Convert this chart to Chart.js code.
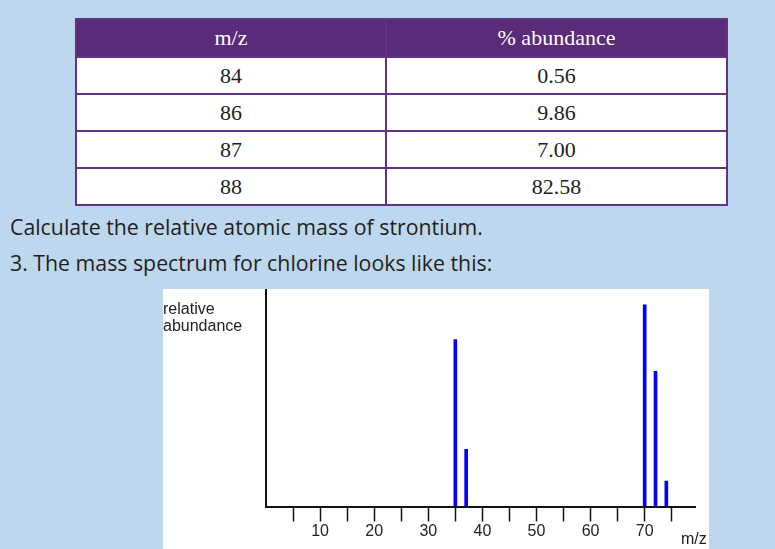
<!DOCTYPE html>
<html>
<head>
<meta charset="utf-8">
<script src="https://cdn.jsdelivr.net/npm/chart.js@4.4.1/dist/chart.umd.min.js"></script>
<style>
  html, body { margin: 0; padding: 0; }
  body { width: 775px; height: 549px; background: #BDD7EE; position: relative; overflow: hidden; }
  table.iso { position: absolute; left: 75px; top: 18px; width: 651px; border-collapse: collapse; table-layout: fixed;
    font-family: "Liberation Serif", "DejaVu Serif", serif; font-size: 22px; color: #231F20; }
  table.iso th, table.iso td { border: 2px solid #5F3283; text-align: center; padding: 0; line-height: 24px; }
  table.iso th { background: #5B2A78; color: #fff; font-weight: normal; height: 36px; }
  table.iso th + th { border-left: 2px solid #F2EEF6; }
  table.iso td { background: #fff; height: 35px; }
  .q { position: absolute; left: 10px; font-family: "Open Sans", sans-serif; font-size: 21.3px; line-height: 24px; color: #231F20; white-space: nowrap; }
  #box { position: absolute; left: 163px; top: 289px; width: 546px; height: 260px; background: #fff; }
</style>
</head>
<body>
<table class="iso" id="tbl">
  <colgroup><col style="width:310px"><col style="width:341px"></colgroup>
  <thead><tr><th id="h1"></th><th id="h2"></th></tr></thead>
  <tbody id="tb"></tbody>
</table>
<div class="q" style="top:215px">Calculate the relative atomic mass of strontium.</div>
<div class="q" style="top:251px">3. The mass spectrum for chlorine looks like this:</div>
<div id="box"><canvas id="c" width="546" height="260"></canvas></div>
<script>
// Table data (strontium)
const tableHeaders = ["m/z", "% abundance"];
const srMass = ["84", "86", "87", "88"];
const srAbundance = ["0.56", "9.86", "7.00", "82.58"];

// Chlorine mass spectrum
const peakMz = [35, 37, 70, 72, 74];
const peakAbundance = [82.7, 28.3, 100, 67.0, 12.6];
const xTickValues = [5, 10, 15, 20, 25, 30, 35, 40, 45, 50, 55, 60, 65, 70, 75];
const xTickLabels = ["", "10", "", "20", "", "30", "", "40", "", "50", "", "60", "", "70", ""];
const xAxisTitle = "m/z";
const yAxisTitle = ["relative", "abundance"];

document.getElementById('h1').textContent = tableHeaders[0];
document.getElementById('h2').textContent = tableHeaders[1];
const tb = document.getElementById('tb');
srMass.forEach((m, i) => {
  const tr = document.createElement('tr');
  const a = document.createElement('td'); a.textContent = m;
  const b = document.createElement('td'); b.textContent = srAbundance[i];
  tr.appendChild(a); tr.appendChild(b); tb.appendChild(tr);
});

const labelPlugin = {
  id: 'axisTexts',
  afterDraw(chart) {
    const ctx = chart.ctx;
    const a = chart.chartArea;
    ctx.save();
    ctx.fillStyle = '#222';
    ctx.font = '16px "Liberation Sans", Arial, sans-serif';
    ctx.textAlign = 'left';
    ctx.textBaseline = 'alphabetic';
    ctx.fillText(yAxisTitle[0], 0, a.top + 25);
    ctx.fillText(yAxisTitle[1], 0, a.top + 42);
    ctx.fillText(xAxisTitle, a.right - 14, a.bottom + 37);
    ctx.restore();
  }
};

new Chart(document.getElementById('c'), {
  type: 'bar',
  data: {
    datasets: [{
      data: peakMz.map((x, i) => ({ x: x, y: peakAbundance[i] })),
      backgroundColor: '#0000FF',
      borderWidth: 0,
      barThickness: 3
    }]
  },
  options: {
    responsive: false,
    animation: false,
    devicePixelRatio: 1,
    layout: { padding: { left: 103, right: 14, top: 0, bottom: 0 } },
    plugins: { legend: { display: false }, tooltip: { enabled: false }, title: { display: false } },
    scales: {
      x: {
        type: 'linear',
        offset: false,
        min: 0,
        max: 79.3,
        afterBuildTicks: (s) => { s.ticks = xTickValues.map(v => ({ value: v })); },
        afterFit: (s) => { s.height = 42.5; },
        ticks: {
          autoSkip: false,
          maxRotation: 0,
          padding: 0,
          color: '#222',
          font: { family: '"Liberation Sans", Arial, sans-serif', size: 16 },
          callback: (v) => { const i = xTickValues.indexOf(v); return i >= 0 ? xTickLabels[i] : ''; }
        },
        grid: { display: true, offset: false, drawOnChartArea: false, drawTicks: true, tickLength: 15, tickColor: '#111', tickWidth: 1.5 },
        border: { display: true, color: '#111', width: 2 }
      },
      y: {
        min: 0,
        max: 107.8,
        afterFit: (s) => { s.width = 0; },
        ticks: { display: false },
        grid: { display: false },
        border: { display: true, color: '#111', width: 2 }
      }
    }
  },
  plugins: [labelPlugin]
});
</script>
</body>
</html>
